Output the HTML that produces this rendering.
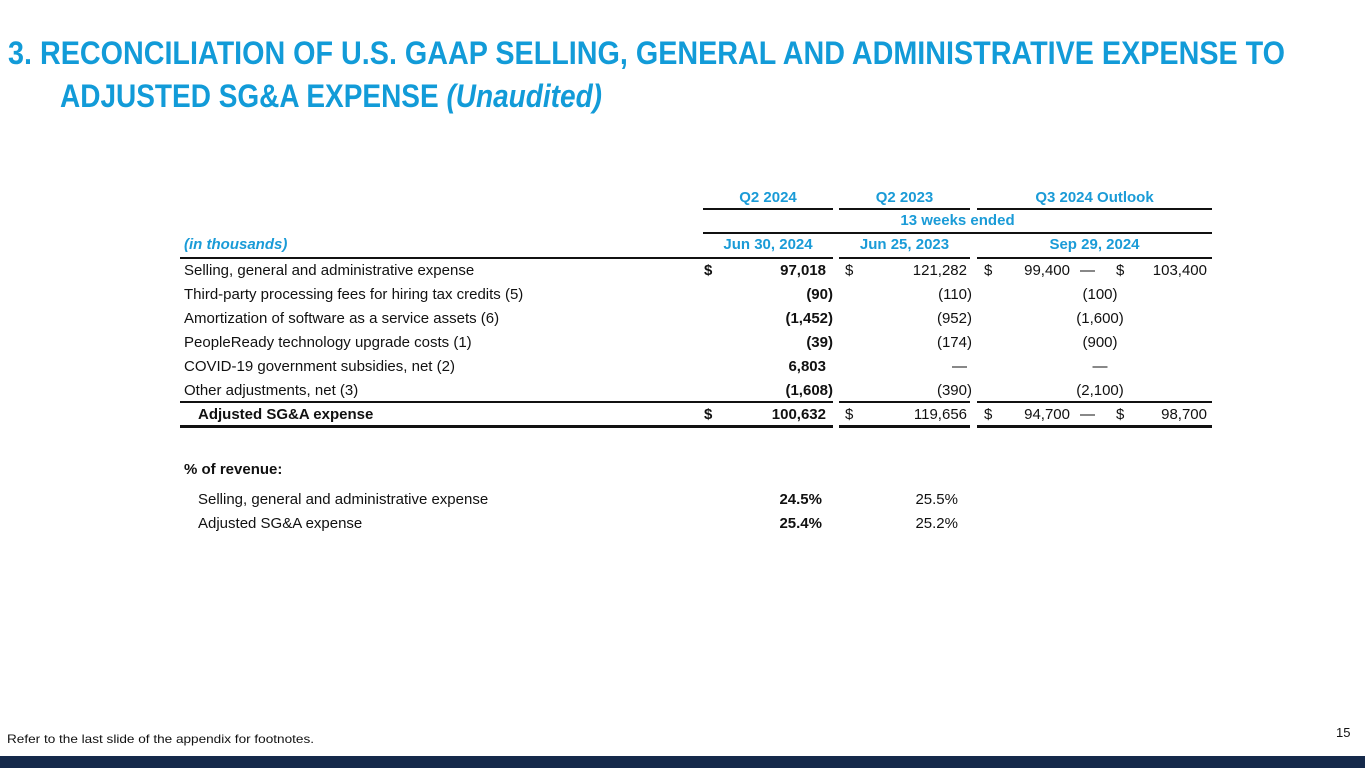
<!DOCTYPE html>
<html><head><meta charset="utf-8">
<style>
body{margin:0;width:1365px;height:768px;position:relative;background:#fff;overflow:hidden;font-family:"Liberation Sans",Arial,sans-serif;color:#111;}
.t{position:absolute;white-space:nowrap;font-size:15px;line-height:18px;}
.title{position:absolute;left:8px;font-family:"Liberation Sans",sans-serif;font-weight:bold;font-size:32px;color:#129bd8;white-space:nowrap;line-height:36px;transform-origin:0 0;}
.h{color:#1a9bd7;font-weight:bold;}
.b{font-weight:bold;}
.r{text-align:right;}
.c{text-align:center;}
.ln{position:absolute;background:#111;height:2px;}
</style></head><body>
<div class="title fit" data-w="1277" style="top:35px;">3. RECONCILIATION OF U.S. GAAP SELLING, GENERAL AND ADMINISTRATIVE EXPENSE TO</div>
<div class="title fit" data-w="542" style="top:78px;left:60px;">ADJUSTED SG&amp;A EXPENSE <i>(Unaudited)</i></div>

<div class="t h c" style="left:703px;width:130px;top:189px;">Q2 2024</div>
<div class="t h c" style="left:839px;width:131px;top:189px;">Q2 2023</div>
<div class="t h c" style="left:977px;width:235px;top:189px;">Q3 2024 Outlook</div>
<div class="ln" style="left:703px;width:130px;top:208px;"></div>
<div class="ln" style="left:839px;width:131px;top:208px;"></div>
<div class="ln" style="left:977px;width:235px;top:208px;"></div>
<div class="t h c" style="left:703px;width:509px;top:212px;">13 weeks ended</div>
<div class="ln" style="left:703px;width:509px;top:232px;"></div>
<div class="t h" style="left:184px;top:236px;font-style:italic;">(in thousands)</div>
<div class="t h c" style="left:703px;width:130px;top:236px;">Jun 30, 2024</div>
<div class="t h c" style="left:839px;width:131px;top:236px;">Jun 25, 2023</div>
<div class="t h c" style="left:977px;width:235px;top:236px;">Sep 29, 2024</div>
<div class="ln" style="left:180px;width:653px;top:257px;"></div>
<div class="ln" style="left:839px;width:131px;top:257px;"></div>
<div class="ln" style="left:977px;width:235px;top:257px;"></div>

<div id="rows"></div>

<div class="ln" style="left:180px;width:653px;top:401px;"></div>
<div class="ln" style="left:839px;width:131px;top:401px;"></div>
<div class="ln" style="left:977px;width:235px;top:401px;"></div>
<div class="ln" style="left:180px;width:653px;top:425px;height:3px;"></div>
<div class="ln" style="left:839px;width:131px;top:425px;height:3px;"></div>
<div class="ln" style="left:977px;width:235px;top:425px;height:3px;"></div>

<div class="t b" style="left:184px;top:461px;">% of revenue:</div>
<div class="t" style="left:198px;top:491px;">Selling, general and administrative expense</div>
<div class="t b r" style="left:700px;width:122px;top:491px;">24.5%</div>
<div class="t r" style="left:840px;width:118px;top:491px;">25.5%</div>
<div class="t" style="left:198px;top:515px;">Adjusted SG&amp;A expense</div>
<div class="t b r" style="left:700px;width:122px;top:515px;">25.4%</div>
<div class="t r" style="left:840px;width:118px;top:515px;">25.2%</div>

<div class="t fit" data-w="307" style="left:7px;top:730px;font-size:12px;transform-origin:0 0;">Refer to the last slide of the appendix for footnotes.</div>
<div class="t" style="left:1336px;top:724px;font-size:13px;">15</div>
<div style="position:absolute;left:0;top:756px;width:1365px;height:12px;background:#15294a;"></div>

<script>
const labels=["Selling, general and administrative expense","Third-party processing fees for hiring tax credits (5)","Amortization of software as a service assets (6)","PeopleReady technology upgrade costs (1)","COVID-19 government subsidies, net (2)","Other adjustments, net (3)","Adjusted SG&A expense"];
const q2024=["97,018","(90)","(1,452)","(39)","6,803","(1,608)","100,632"];
const q2023=["121,282","(110)","(952)","(174)","—","(390)","119,656"];
const outlook=["","(100)","(1,600)","(900)","—","(2,100)",""];
const outLow=["99,400","","","","","","94,700"];
const outHigh=["103,400","","","","","","98,700"];
const tops=[262,286,310,334,358,382,406];
const host=document.getElementById('rows');
function add(txt,cls,style){const d=document.createElement('div');d.className='t '+cls;d.style.cssText=style;d.textContent=txt;host.appendChild(d);return d;}
labels.forEach((l,i)=>{
  const top=tops[i];const last=i===labels.length-1;
  let e=add(l,last?'b':'', `left:${last?198:184}px;top:${top}px;`);
  
  
  const paren=q2024[i].endsWith(')');
  e=add(q2024[i],'b r',`left:700px;width:${paren?133:126}px;top:${top}px;`);
  
  
  const p2=q2023[i].endsWith(')');
  e=add(q2023[i],'r',`left:840px;width:${p2?132:127}px;top:${top}px;`);
  
  
  if(i===0||last){
    e=add('$','b',`left:704px;top:${top}px;`);
    e=add('$','',`left:845px;top:${top}px;`);
    e=add('$','',`left:984px;top:${top}px;`);
    e=add(outLow[i],'r',`left:990px;width:80px;top:${top}px;`);
    e=add('—','',`left:1080px;top:${top}px;`);
    e=add('$','',`left:1116px;top:${top}px;`);
    e=add(outHigh[i],'r',`left:1126px;width:81px;top:${top}px;`);
  } else {
    e=add(outlook[i],'c',`left:1040px;width:120px;top:${top}px;`);
    
    
  }
});
document.querySelectorAll('.fit').forEach(el=>{
  const w=el.getBoundingClientRect().width;const target=+el.getAttribute('data-w');
  if(w>0) el.style.transform='scaleX('+(target/w)+')';
});
</script>
</body></html>
